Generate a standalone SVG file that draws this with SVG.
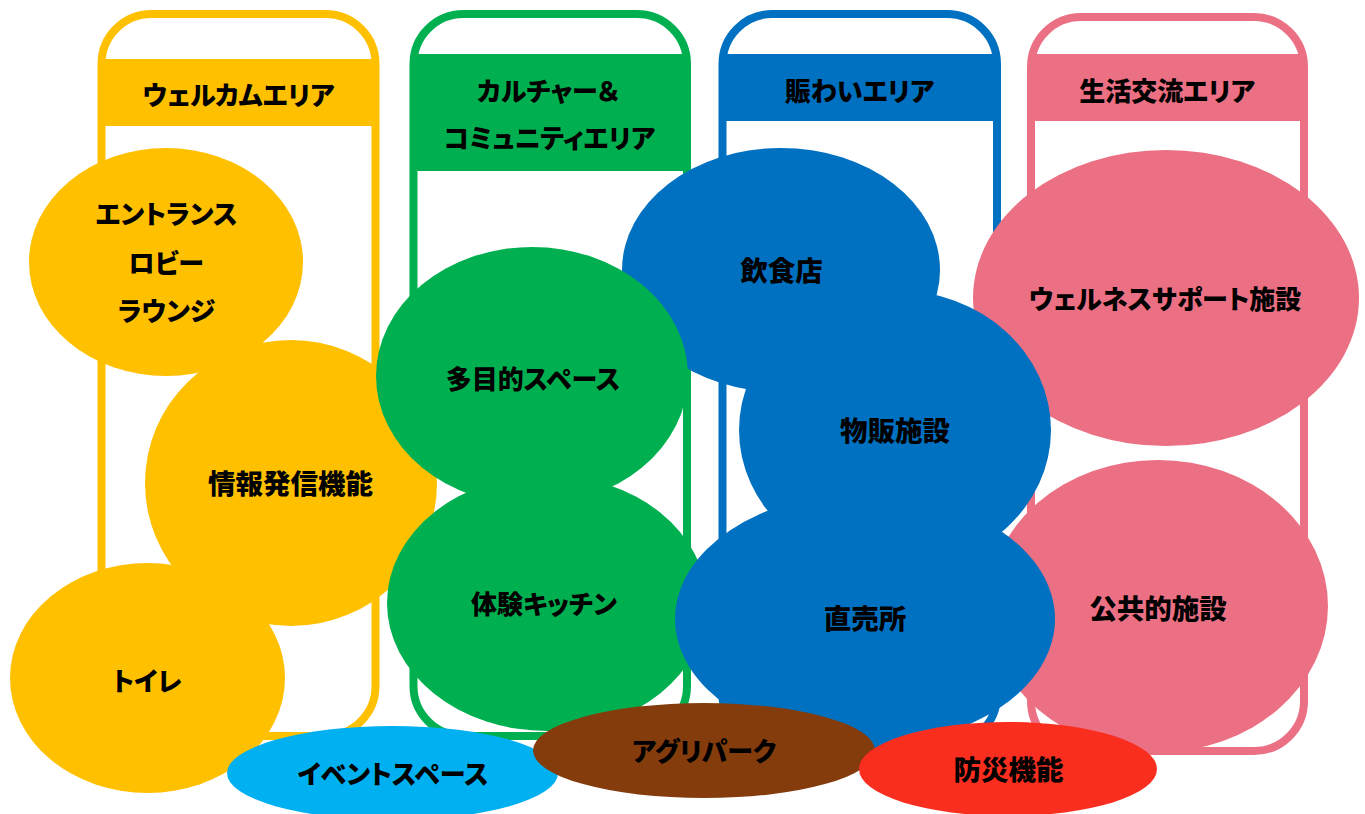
<svg xmlns="http://www.w3.org/2000/svg" width="1365" height="814" viewBox="0 0 1365 814">
<style>
.lbl { font-family: "Noto Sans CJK JP", "Noto Sans", sans-serif; font-weight: 900; font-size: 26px; fill: #000; text-anchor: middle; dominant-baseline: central; font-feature-settings: "palt"; }
.k { font-size: 27.5px; }
.col { fill: none; stroke-width: 8; }
.y { fill: #FFC000; } .g { fill: #00B050; } .b { fill: #0070C0; } .p { fill: #EC7083; }
.cy { stroke: #FFC000; } .cg { stroke: #00B050; } .cb { stroke: #0070C0; } .cp { stroke: #EC7083; }
</style>
<rect width="1365" height="814" fill="#fff"/>
<g id="area-welcome">
  <rect class="col cy" x="101.5" y="14" width="274" height="722" rx="50" ry="50"/>
  <rect class="y" x="101.5" y="59" width="274" height="67"/>
  <text class="lbl" x="238.5" y="93">ウェルカムエリア</text>
</g>
<g id="area-culture">
  <rect class="col cg" x="413.5" y="14" width="273.5" height="722" rx="50" ry="50"/>
  <rect class="g" x="413.5" y="54" width="273.5" height="117"/>
  <text class="lbl" x="548" y="89">カルチャー＆</text>
  <text class="lbl" x="549.5" y="136">コミュニティエリア</text>
</g>
<g id="area-nigiwai">
  <rect class="col cb" x="722.5" y="14" width="274.5" height="731" rx="50" ry="50"/>
  <rect class="b" x="722.5" y="54" width="274.5" height="67"/>
  <text class="lbl" x="859.5" y="89">賑わいエリア</text>
</g>
<g id="area-seikatsu">
  <rect class="col cp" x="1031" y="17" width="273" height="734" rx="50" ry="50"/>
  <rect class="p" x="1031" y="54" width="273" height="67"/>
  <text class="lbl" x="1167" y="89">生活交流エリア</text>
</g>
<g id="node-entrance">
  <ellipse class="y" cx="166" cy="262" rx="137" ry="114"/>
  <text class="lbl" x="166.5" y="212">エントランス</text>
  <text class="lbl" x="166" y="261">ロビー</text>
  <text class="lbl" x="166.5" y="309">ラウンジ</text>
</g>
<g id="node-info">
  <ellipse class="y" cx="291" cy="483" rx="146" ry="143"/>
  <text class="lbl k" x="290.5" y="482">情報発信機能</text>
</g>
<g id="node-toilet">
  <ellipse class="y" cx="147.5" cy="678" rx="137.5" ry="115"/>
  <text class="lbl" x="147" y="679">トイレ</text>
</g>
<g id="node-restaurant">
  <ellipse class="b" cx="781" cy="270" rx="159" ry="122"/>
  <text class="lbl k" x="781.5" y="269">飲食店</text>
</g>
<g id="node-wellness">
  <ellipse class="p" cx="1166" cy="298" rx="193" ry="148"/>
  <text class="lbl" x="1165" y="297">ウェルネスサポート施設</text>
</g>
<g id="node-public">
  <ellipse class="p" cx="1158" cy="606" rx="170" ry="146"/>
  <text class="lbl k" x="1158" y="607">公共的施設</text>
</g>
<g id="node-multipurpose">
  <ellipse class="g" cx="532" cy="376" rx="156" ry="129"/>
  <text class="lbl" x="533" y="377">多目的スペース</text>
</g>
<g id="node-kitchen">
  <ellipse class="g" cx="547" cy="603" rx="160" ry="128"/>
  <text class="lbl" x="544" y="602">体験キッチン</text>
</g>
<g id="node-shop">
  <ellipse class="b" cx="895" cy="430" rx="156" ry="140"/>
  <text class="lbl k" x="895" y="429">物販施設</text>
</g>
<g id="node-direct">
  <ellipse class="b" cx="865" cy="619" rx="190" ry="126"/>
  <text class="lbl k" x="865" y="617">直売所</text>
</g>
<g id="node-event">
  <ellipse cx="392.5" cy="773" rx="165.5" ry="47" fill="#00B0F0"/>
  <text class="lbl" x="393" y="772">イベントスペース</text>
</g>
<g id="node-agri">
  <ellipse cx="704" cy="750.5" rx="171" ry="47.5" fill="#843C0C"/>
  <text class="lbl" x="704" y="749">アグリパーク</text>
</g>
<g id="node-disaster">
  <ellipse cx="1008" cy="769" rx="149" ry="47" fill="#FA2E1F"/>
  <text class="lbl k" x="1008.5" y="768">防災機能</text>
</g>
</svg>
